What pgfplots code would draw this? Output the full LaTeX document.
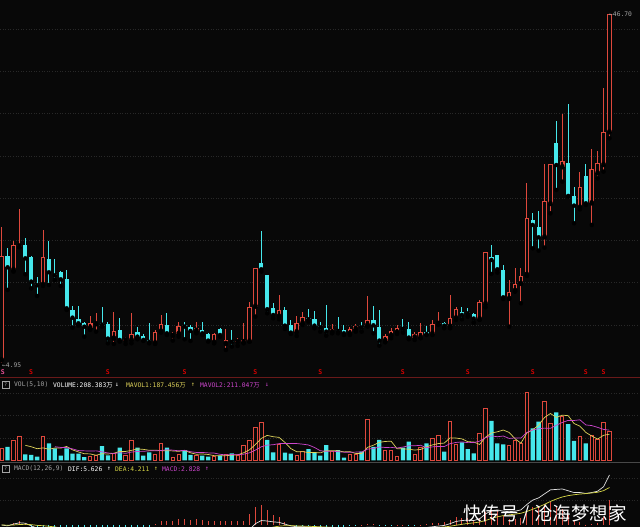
\documentclass[border=0pt]{standalone}
\usepackage{fontspec}
\usepackage{pgfplots}
\usepackage{pgfplotstable}
\pgfplotsset{compat=1.18}
\setmainfont{DejaVu Sans Mono}
\newfontfamily\mono{DejaVu Sans Mono}
\newfontfamily\cjk{Noto Sans CJK SC}
\definecolor{bgc}{RGB}{8,8,8}
\definecolor{upc}{RGB}{222,72,60}
\definecolor{dnc}{RGB}{70,232,236}
\definecolor{gridc}{RGB}{40,40,40}
\definecolor{ma5c}{RGB}{222,210,90}
\definecolor{ma10c}{RGB}{205,70,205}
\definecolor{difc}{RGB}{225,225,225}
\definecolor{deac}{RGB}{215,215,70}
\definecolor{sepc}{RGB}{105,25,25}
\definecolor{labc}{RGB}{165,165,165}
\definecolor{pinkc}{RGB}{235,80,150}

\pgfplotstableread{
i u o h l c v vu m5 m10 dif dea macd
0 1 5.50 21.41 4.95 17.92 88 1 nan nan 0.00 0.00 0.00
1 0 17.92 18.83 13.88 16.57 97 0 nan nan -0.10 -0.02 -0.16
2 1 16.25 19.70 16.06 19.19 138 1 nan nan 0.10 0.00 0.20
3 1 19.03 23.47 18.95 19.23 168 1 nan nan 0.25 0.05 0.40
4 0 19.19 20.02 15.74 17.64 44 0 107 nan 0.20 0.08 0.24
5 0 17.76 17.90 14.07 14.87 39 0 97.2 nan -0.10 0.04 -0.28
6 0 14.59 15.46 13.16 14.43 27 0 83.2 nan -0.35 -0.04 -0.62
7 1 14.47 21.01 14.35 17.76 168 1 89.2 nan -0.25 -0.08 -0.34
8 0 17.60 19.74 14.47 15.98 121 0 79.8 nan -0.40 -0.14 -0.52
9 0 15.74 17.52 15.07 15.62 86 0 88.2 97.6 -0.55 -0.22 -0.66
10 0 16.06 16.17 14.35 15.14 34 0 87.2 92.2 -0.70 -0.32 -0.76
11 0 15.18 16.25 11.50 11.69 86 0 99 91.1 -1.10 -0.48 -1.24
12 0 11.50 11.97 9.40 10.58 48 0 75 82.1 -1.45 -0.67 -1.56
13 0 10.39 11.97 9.63 9.91 48 0 60.4 70.1 -1.75 -0.89 -1.72
14 0 9.91 10.11 8.32 9.51 23 0 47.8 68 -2.00 -1.11 -1.78
15 1 9.32 10.78 9.12 9.99 27 1 46.4 66.8 -2.10 -1.31 -1.58
16 1 9.79 11.10 8.92 10.03 39 1 37 68 -2.15 -1.48 -1.34
17 0 9.91 11.89 9.51 9.75 102 0 47.8 61.4 -2.20 -1.62 -1.16
18 0 9.83 10.11 7.53 8.09 37 0 45.6 53 -2.35 -1.77 -1.16
19 1 8.09 11.22 7.45 9.04 51 1 51.2 49.5 -2.35 -1.88 -0.94
20 0 9.12 10.51 7.73 7.93 90 0 63.8 55.1 -2.40 -1.99 -0.82
21 1 7.85 8.32 7.45 8.01 39 1 63.8 50.4 -2.40 -2.07 -0.66
22 1 7.89 11.18 7.53 8.60 140 1 71.4 59.6 -2.35 -2.13 -0.44
23 0 8.84 9.51 8.01 8.32 90 0 82 63.8 -2.30 -2.16 -0.28
24 0 8.40 8.60 7.81 7.93 34 0 78.6 64.9 -2.30 -2.19 -0.22
25 0 7.89 9.91 7.53 7.69 58 0 72.2 68 -2.30 -2.21 -0.18
26 1 7.53 9.12 7.45 8.92 44 1 73.2 68.5 -2.15 -2.20 0.10
27 1 8.92 10.90 8.80 9.79 121 1 69.4 70.4 -1.95 -2.15 0.40
28 0 9.71 11.10 8.52 8.72 90 0 69.4 75.7 -1.85 -2.09 0.48
29 1 8.40 8.92 7.85 8.64 25 1 67.6 73.1 -1.80 -2.03 0.46
30 1 8.64 10.11 8.32 9.63 44 1 64.8 68.5 -1.65 -1.96 0.62
31 0 9.71 10.11 8.01 9.51 74 0 70.8 72 -1.55 -1.88 0.66
32 0 9.51 9.71 7.81 9.00 39 0 54.4 61.9 -1.50 -1.80 0.60
33 1 9.00 10.11 8.72 9.32 39 1 44.2 56.8 -1.40 -1.72 0.64
34 0 9.12 10.11 8.52 8.72 34 0 46 56.8 -1.35 -1.65 0.60
35 0 8.64 8.72 7.73 7.85 27 0 42.6 53.7 -1.35 -1.59 0.48
36 1 7.61 8.80 7.53 8.64 32 1 34.2 52.5 -1.30 -1.53 0.46
37 0 9.20 9.32 8.32 8.52 34 0 33.2 43.8 -1.25 -1.47 0.44
38 1 7.45 9.24 6.74 7.93 44 1 34.2 39.2 -1.20 -1.42 0.44
39 0 7.85 9.12 7.14 7.69 51 0 37.6 41.8 -1.15 -1.37 0.44
40 1 7.65 8.13 7.22 7.77 39 1 40 41.3 -1.10 -1.32 0.44
41 1 7.65 9.99 7.53 7.93 104 1 54.4 44.3 -1.05 -1.27 0.44
42 1 7.73 12.41 7.73 11.89 138 1 75.2 54.2 -0.50 -1.12 1.24
43 1 11.89 16.45 10.70 16.45 232 1 112.8 73.5 0.15 -0.87 2.04
44 0 17.05 20.93 16.06 16.33 267 1 156 96.8 0.50 -0.60 2.20
45 0 15.66 15.66 11.10 11.58 145 0 177.2 108.6 0.45 -0.39 1.68
46 0 11.69 12.29 10.51 10.90 58 0 168 111.2 0.35 -0.24 1.18
47 1 10.70 13.28 10.39 11.50 114 1 163.2 119.2 0.30 -0.13 0.86
48 0 11.50 11.89 9.24 9.63 55 0 127.8 120.3 0.10 -0.08 0.36
49 0 9.71 10.31 8.64 8.80 48 0 84 120 -0.10 -0.08 -0.04
50 1 8.84 10.78 8.40 9.91 34 1 61.8 119.5 -0.20 -0.10 -0.20
51 1 9.91 11.22 9.71 10.70 62 1 62.6 115.3 -0.20 -0.12 -0.16
52 0 10.58 11.58 10.11 10.39 81 0 56 109.6 -0.22 -0.14 -0.16
53 0 10.39 11.42 9.32 9.63 58 0 56.6 92.2 -0.28 -0.17 -0.22
54 0 9.63 10.11 8.92 9.43 34 0 53.8 68.9 -0.32 -0.20 -0.24
55 0 9.40 12.09 8.44 8.92 109 0 68.8 65.3 -0.38 -0.23 -0.30
56 1 8.84 9.83 8.72 9.20 67 1 69.8 66.2 -0.38 -0.26 -0.24
57 0 9.12 10.62 8.72 9.00 74 0 68.4 62.2 -0.40 -0.29 -0.22
58 0 9.12 9.71 8.52 8.72 20 0 60.8 58.7 -0.42 -0.32 -0.20
59 1 8.64 9.51 8.52 9.24 44 1 62.8 58.3 -0.40 -0.33 -0.14
60 1 9.24 9.83 8.92 9.63 44 1 49.8 59.3 -0.35 -0.34 -0.02
61 0 9.51 10.11 8.92 9.40 62 0 48.8 59.3 -0.33 -0.34 0.02
62 1 9.67 13.16 9.51 10.31 293 1 92.6 80.5 -0.25 -0.32 0.14
63 0 10.31 11.97 8.72 9.67 97 0 108 84.4 -0.25 -0.31 0.12
64 0 9.51 11.50 7.25 7.85 145 0 128.2 95.5 -0.35 -0.31 -0.08
65 1 7.81 8.60 7.65 8.44 74 1 134.2 92 -0.38 -0.33 -0.10
66 1 8.40 9.32 8.13 9.04 74 1 136.6 92.7 -0.36 -0.33 -0.06
67 1 8.80 9.71 8.64 9.40 27 1 83.4 88 -0.32 -0.33 0.02
68 0 9.40 10.39 8.80 9.24 90 0 82 95 -0.30 -0.32 0.04
69 0 9.24 10.11 8.01 8.21 133 0 79.6 103.9 -0.34 -0.33 -0.02
70 1 8.21 8.92 7.93 8.60 44 1 73.6 103.9 -0.34 -0.33 -0.02
71 1 8.25 9.99 8.13 8.92 95 1 77.8 107.2 -0.30 -0.32 0.04
72 0 8.84 9.59 8.52 8.64 121 0 96.6 90 -0.28 -0.31 0.06
73 1 8.64 10.31 8.52 9.83 157 1 110 96 -0.20 -0.29 0.18
74 1 9.83 11.30 9.71 9.99 180 1 119.4 99.5 -0.12 -0.26 0.28
75 0 9.99 10.11 9.32 9.63 62 0 123 98.3 -0.05 -0.22 0.34
76 1 9.51 13.28 9.32 10.50 279 1 159.8 118.8 0.15 -0.14 0.58
77 1 10.50 11.89 10.31 11.58 114 1 158.4 127.5 0.40 -0.03 0.86
78 0 11.30 11.89 10.39 10.90 128 0 152.6 131.3 0.50 0.08 0.84
79 0 11.30 11.69 10.70 11.10 81 0 132.8 126.1 0.55 0.17 0.76
80 0 11.02 11.10 9.99 10.47 51 0 130.6 126.8 0.50 0.24 0.52
81 1 10.39 12.69 10.31 12.49 192 1 113.2 136.5 0.70 0.33 0.74
82 1 12.21 18.35 11.81 18.35 369 1 164.2 161.3 1.25 0.51 1.48
83 0 17.84 19.23 15.78 17.44 279 0 194.4 173.5 1.60 0.73 1.74
84 0 18.04 18.04 15.94 16.33 121 0 202.4 167.6 1.70 0.92 1.56
85 0 16.25 16.85 12.80 13.00 114 0 215 172.8 1.55 1.05 1.00
86 1 12.80 15.06 9.51 13.60 109 1 198.4 155.8 1.50 1.14 0.72
87 1 13.76 16.45 13.68 14.55 145 1 153.6 158.9 1.55 1.22 0.66
88 1 14.59 16.45 12.29 15.54 121 1 122 158.2 1.70 1.32 0.76
89 1 15.66 26.56 15.54 22.40 481 1 194 198.2 2.30 1.52 1.56
90 0 22.20 23.00 18.83 21.61 227 0 216.6 215.8 2.80 1.77 2.06
91 0 21.41 23.31 18.55 20.14 274 0 249.6 224 3.05 2.03 2.04
92 1 20.14 28.82 18.91 24.46 415 1 303.6 228.6 3.50 2.32 2.36
93 1 24.10 28.82 22.99 28.82 263 1 332 227 3.95 2.65 2.60
94 0 31.32 34.02 25.77 28.74 340 0 303.8 248.9 4.00 2.92 2.16
95 1 28.47 34.81 26.76 29.22 309 1 320.2 268.4 4.05 3.15 1.80
96 0 28.94 35.96 24.98 25.06 256 0 316.6 283.1 3.85 3.30 1.10
97 0 25.06 26.17 21.81 23.91 138 0 261.2 282.4 3.65 3.40 0.50
98 1 23.67 27.95 23.47 26.17 168 1 242.2 287.1 3.65 3.48 0.34
99 0 27.47 28.82 23.99 24.18 121 0 198.4 251.1 3.55 3.53 0.04
100 1 24.18 30.61 21.61 28.23 180 1 172.6 246.4 3.65 3.60 0.10
101 1 27.75 30.45 27.16 28.94 150 1 151.4 234 3.80 3.68 0.24
102 1 28.74 37.86 27.95 32.71 270 1 177.8 219.5 4.30 3.86 0.88
103 1 32.63 46.70 31.92 46.70 208 1 185.8 214 5.626 4.211 2.83
}\kdata

\pgfplotstableread{
i y
5 4.12
18 4.12
31 4.12
43 4.12
54 4.12
68 4.12
79 4.12
90 4.12
99 4.12
102 4.12
}\smarks

\pgfplotsset{
  panel/.style={width=640pt, scale only axis, xmin=-0.288, xmax=108.18,
    axis line style={draw=none}, xtick=\empty, yticklabels={},
    major tick length=0pt, ymajorgrids,
    grid style={gridc, line width=0.5pt, dash pattern=on 1pt off 1.6pt},
    clip=true, anchor=south west},
  wick/.style={only marks, mark=none, error bars/.cd, y dir=plus, y explicit,
    error mark=none, error bar style={#1, line width=1pt}},
  body/.style 2 args={only marks, mark=none, error bars/.cd, y dir=plus, y explicit,
    error mark=none, error bar style={#1, line width=#2}},
  isup/.style={restrict expr to domain={\thisrow{u}}{0.5:1.5}},
  isdn/.style={restrict expr to domain={\thisrow{u}}{-0.5:0.5}},
}
\tikzset{hd/.style={anchor=west, inner sep=0pt, font=\mono\fontsize{6.3}{7.5}\selectfont}}

\begin{document}
\begin{tikzpicture}
\fill[bgc] (0,0) rectangle (640pt,527pt);

% ---------------- price panel ----------------
\begin{axis}[panel, at={(0pt,150pt)}, height=377pt, ymin=3.52, ymax=48.37,
  ytick={9.71,14.74,19.77,24.80,29.83,34.86,39.89,44.92}]
\addplot[isup, wick=upc] table[x=i, y=l, y error plus expr=\thisrow{h}-\thisrow{l}] {\kdata};
\addplot[isup, body={upc}{4.6pt}] table[x=i, y=o, y error plus expr={max(\thisrow{c}-\thisrow{o},0.1)}] {\kdata};
\addplot[isup, body={bgc}{2.4pt}] table[x=i, y expr=\thisrow{o}+0.13, y error plus expr={max(\thisrow{c}-\thisrow{o}-0.26,0)}] {\kdata};
\addplot[isdn, wick=dnc] table[x=i, y=l, y error plus expr=\thisrow{h}-\thisrow{l}] {\kdata};
\addplot[isdn, body={dnc}{4.2pt}] table[x=i, y=c, y error plus expr={max(\thisrow{o}-\thisrow{c},0.1)}] {\kdata};
% S markers
\addplot[only marks, mark=none, nodes near coords={S},
  every node near coord/.append style={anchor=center, inner sep=0pt, text=red!85!black,
  font=\mono\bfseries\fontsize{6.5}{7}\selectfont}] table[x=i, y=y] {\smarks};
\addplot[only marks, mark=none, nodes near coords={S},
  every node near coord/.append style={anchor=center, inner sep=0pt, text=pinkc,
  font=\mono\bfseries\fontsize{6.5}{7}\selectfont}] coordinates {(0.2,4.12)};
\end{axis}

% ---------------- volume panel ----------------
\begin{axis}[panel, at={(0pt,65pt)}, height=85pt, ymin=-10.6, ymax=589.5,
  ytick={159,318,477}]
\addplot[ybar, bar width=3.4pt, bar shift=0pt, draw=upc, fill=bgc, line width=0.9pt,
  restrict expr to domain={\thisrow{vu}}{0.5:1.5}] table[x=i, y=v] {\kdata};
\addplot[ybar, bar width=4.3pt, bar shift=0pt, draw=none, fill=dnc,
  restrict expr to domain={\thisrow{vu}}{-0.5:0.5}] table[x=i, y=v] {\kdata};
\addplot[ma5c, line width=0.7pt, mark=none, unbounded coords=jump] table[x=i, y=m5] {\kdata};
\addplot[ma10c, line width=0.7pt, mark=none, unbounded coords=jump] table[x=i, y=m10] {\kdata};
\end{axis}

% ---------------- MACD panel ----------------
\begin{axis}[panel, at={(0pt,0pt)}, height=64pt, ymin=-0.225, ymax=6.97,
  ytick={2.8,5.3}]
\addplot[ycomb, upc, line width=0.9pt, mark=none,
  restrict expr to domain={\thisrow{macd}}{0.001:100}] table[x=i, y=macd] {\kdata};
\addplot[ycomb, dnc, line width=0.9pt, mark=none,
  restrict expr to domain={\thisrow{macd}}{-100:-0.001}] table[x=i, y=macd] {\kdata};
\addplot[difc, line width=0.7pt, mark=none] table[x=i, y=dif] {\kdata};
\addplot[deac, line width=0.7pt, mark=none] table[x=i, y=dea] {\kdata};
\end{axis}

% separators
\draw[sepc, line width=0.8pt] (0,150pt) -- (640pt,150pt);
\draw[gridc!85!white, line width=0.6pt] (0,64.5pt) -- (640pt,64.5pt);

% price labels
\node[hd, text=labc] at (609pt,513pt) {←46.70};
\node[hd, text=labc] at (2pt,162pt) {←4.95};

% VOL header
\draw[labc, line width=0.5pt] (2pt,138.5pt) rectangle (9.5pt,146pt);
\node[anchor=center, inner sep=0pt, text=labc, font=\mono\fontsize{5}{6}\selectfont] at (5.75pt,142.2pt) {?};
\node[hd, text=labc] at (14pt,142pt) {VOL(5,10)};
\node[hd, text=white] at (53pt,142pt) {VOLUME:208.383{\cjk 万}};
\node[hd, text=white] at (115pt,142pt) {↓};
\node[hd, text=ma5c] at (126pt,142pt) {MAVOL1:187.456{\cjk 万}};
\node[hd, text=ma5c] at (191pt,142pt) {↑};
\node[hd, text=ma10c] at (200pt,142pt) {MAVOL2:211.047{\cjk 万}};
\node[hd, text=ma10c] at (265pt,142pt) {↓};

% MACD header
\draw[labc, line width=0.5pt] (2pt,54.5pt) rectangle (9.5pt,62pt);
\node[anchor=center, inner sep=0pt, text=labc, font=\mono\fontsize{5}{6}\selectfont] at (5.75pt,58.2pt) {?};
\node[hd, text=labc] at (14pt,58pt) {MACD(12,26,9)};
\node[hd, text=white] at (68pt,58pt) {DIF:5.626};
\node[hd, text=white] at (107pt,58pt) {↑};
\node[hd, text=deac] at (115pt,58pt) {DEA:4.211};
\node[hd, text=deac] at (154pt,58pt) {↑};
\node[hd, text=ma10c] at (162pt,58pt) {MACD:2.828};
\node[hd, text=ma10c] at (205pt,58pt) {↑};

% watermark
\node[anchor=base west, inner sep=0pt, text=white, font=\cjk\fontsize{18.5}{19}\selectfont]
  at (463pt,6pt) {快传号 / 沧海梦想家};

\pgfresetboundingbox
\path[use as bounding box] (0,0) rectangle (640pt,527pt);
\end{tikzpicture}
\end{document}
